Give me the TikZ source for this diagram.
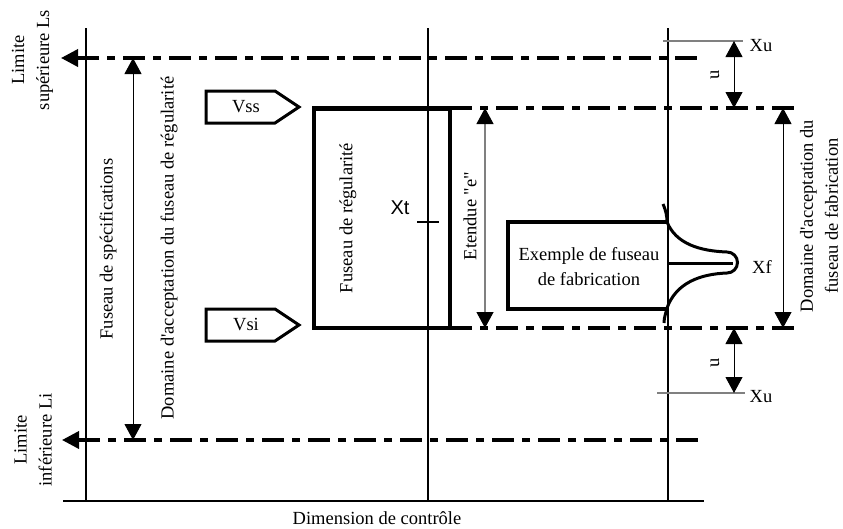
\documentclass[tikz,border=0pt]{standalone}
\usepackage{fontspec}
\setmainfont{Liberation Serif}[Ligatures=TeXOff]
\newfontfamily\arialfont{Liberation Sans}
\usetikzlibrary{arrows.meta}
\begin{document}
\begin{tikzpicture}[x=1pt,y=-1pt,
  txt/.style={font=\fontsize{18.5}{25}\selectfont, inner sep=0pt, align=center},
  vtxt/.style={txt, rotate=90},
  axisline/.style={line width=1.1pt, black},
  dashdotline/.style={line width=3.6pt, dash pattern=on 22pt off 8pt on 8pt off 8pt},
  thickbox/.style={line width=4.5pt},
  flag/.style={line width=3pt, line join=miter},
  dimarrow/.style={line width=1pt, {Triangle[length=16pt,width=17pt]}-{Triangle[length=16pt,width=17pt]}},
  grayline/.style={line width=1.2pt, gray},
  bigtip/.style={{Triangle[length=17pt,width=17pt]}-}
]
\useasboundingbox (0,0) rectangle (843,528);

% coordinates
\coordinate (v1t) at (86,28);  \coordinate (v1b) at (86,501);
\coordinate (v2t) at (428,28); \coordinate (v2b) at (428,501);
\coordinate (v3t) at (668,28); \coordinate (v3b) at (668,501);
\coordinate (axL) at (63,501); \coordinate (axR) at (704,501);
\coordinate (lsL) at (61,58);  \coordinate (lsR) at (704,58);
\coordinate (liL) at (62,440); \coordinate (liR) at (704,440);
\coordinate (vssL) at (450,108); \coordinate (vssR) at (794,108);
\coordinate (vsiL) at (450,328); \coordinate (vsiR) at (794,328);
\coordinate (specT) at (133,58); \coordinate (specB) at (133,440);
\coordinate (etT) at (485,108); \coordinate (etB) at (485,328);
\coordinate (fabT) at (783,108); \coordinate (fabB) at (783,328);
\coordinate (xuTL) at (663,41); \coordinate (xuTR) at (743,41);
\coordinate (xuTa) at (734,41); \coordinate (xuTb) at (734,108);
\coordinate (xuBL) at (657,393); \coordinate (xuBR) at (745,393);
\coordinate (xuBa) at (734,328); \coordinate (xuBb) at (734,393);
\coordinate (xtA) at (417,222); \coordinate (xtB) at (439,222);

% axis and vertical lines
\draw[axisline] (axL) -- (axR);
\draw[axisline] (v1t) -- (v1b);
\draw[axisline] (v2t) -- (v2b);
\draw[axisline] (v3t) -- (v3b);

% dash-dot limit lines
\draw[dashdotline, bigtip] (lsL) -- (lsR);
\draw[dashdotline, bigtip] (liL) -- (liR);
\draw[dashdotline] (vssL) -- (vssR);
\draw[dashdotline] (vsiL) -- (vsiR);

% regularity box
\node[draw, thickbox, minimum width=136pt, minimum height=219.5pt, inner sep=0pt] (reg) at (382,218.25) {};
\node[vtxt] (regtxt) at (348,218) {Fuseau de régularité};

% Xt
\node[inner sep=0pt, font=\arialfont\fontsize{20}{24}\selectfont] (xt) at (400,208) {Xt};
\draw[line width=2.5pt] (xtA) -- (xtB);

% flags
\draw[flag] (206,91) -- (275,91) -- (299,107) -- (275,123) -- (206,123) -- cycle;
\node[txt] (vss) at (246,107) {Vss};
\draw[flag] (206,309) -- (275,309) -- (299,325) -- (275,341) -- (206,341) -- cycle;
\node[txt] (vsi) at (246,325) {Vsi};

% fabrication spindle
\draw[thickbox, line join=miter] (668,222) -- (508,222) -- (508,309) -- (668,309);
\draw[line width=3pt] (663,204) .. controls (666,211) and (667,216) .. (667,222)
   .. controls (676,244) and (700,251) .. (727,252)
   arc[start angle=90, end angle=-90, radius=10.5pt]
   .. controls (700,274) and (676,283) .. (667,308)
   .. controls (666,313) and (664,317) .. (664,323);
\draw[line width=3pt] (668,263) -- (733,263);
\node[txt] (exfab) at (589,267) {Exemple de fuseau\\de fabrication};
\node[txt] (xf) at (762,267) {Xf};

% dimension arrows
\draw[dimarrow] (specT) -- (specB);
\draw[line width=1.2pt, gray, {Triangle[length=16pt,width=17pt,color=black]}-{Triangle[length=16pt,width=17pt,color=black]}] (etT) -- (etB);
\draw[dimarrow] (fabT) -- (fabB);

% Xu
\draw[grayline] (xuTL) -- (xuTR);
\draw[dimarrow] (xuTa) -- (xuTb);
\node[txt] (xu1) at (761,46) {Xu};
\node[vtxt] (u1) at (715,75) {u};
\draw[grayline] (xuBL) -- (xuBR);
\draw[dimarrow] (xuBa) -- (xuBb);
\node[txt] (xu2) at (761,397) {Xu};
\node[vtxt] (u2) at (715,363) {u};

% rotated labels
\node[vtxt] (ls) at (32.5,60) {Limite\\supérieure Ls};
\node[vtxt] (li) at (33,440) {Limite\\inférieure Li};
\node[vtxt] (spec) at (108,249) {Fuseau de spécifications};
\node[vtxt] (domreg) at (169,248) {Domaine d'acceptation du fuseau de régularité};
\node[vtxt] (etendue) at (470,216) {Etendue "e"};
\node[vtxt] (domfab) at (819,216) {Domaine d'acceptation du\\fuseau de fabrication};

% axis label
\node[txt] (dim) at (377,518) {Dimension de contrôle};
\end{tikzpicture}
\end{document}
